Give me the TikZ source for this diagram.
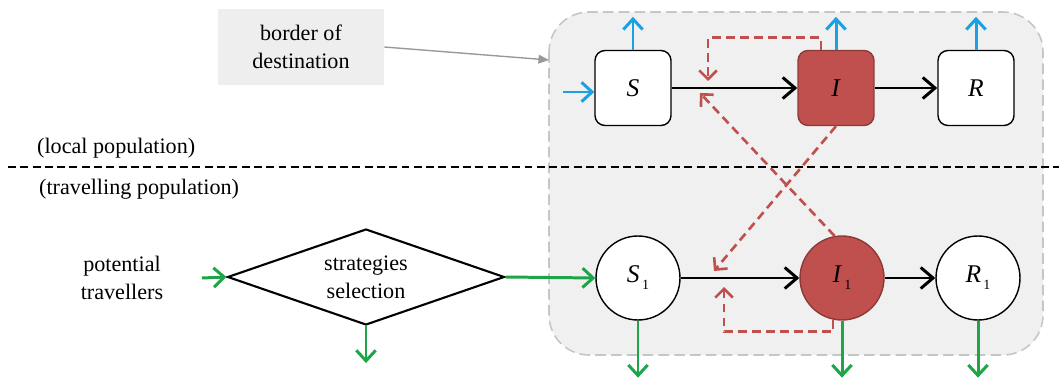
\documentclass[tikz,border=0pt]{standalone}
\usepackage{fontspec}
\setmainfont{Liberation Serif}
\usepackage{tikz}
\usetikzlibrary{arrows.meta,shapes.geometric}
\definecolor{infred}{HTML}{C0504D}
\definecolor{infdark}{HTML}{8C3A38}
\definecolor{flowblue}{HTML}{1BA1E2}
\definecolor{flowgreen}{HTML}{1DA548}
\definecolor{zone}{HTML}{F0F0F0}
\definecolor{labelgray}{HTML}{EEEEEE}

\begin{document}
\begin{tikzpicture}[x=0.02cm, y=-0.02cm, font=\fontsize{12.6}{16}\selectfont,
        compbox/.style={draw=black, line width=0.8pt, fill=white, rounded corners=0.2cm,
          minimum width=1.52cm, minimum height=1.5cm, font=\fontsize{14.5}{17}\selectfont},
        compcirc/.style={draw=black, line width=0.8pt, fill=white, circle, minimum size=1.68cm,
          font=\fontsize{14.5}{17}\selectfont},
        infected/.style={fill=infred, draw=infdark},
        flow/.style={line width=1.7pt, -{Straight Barb[length=7pt, width=12pt]}},
        blueflow/.style={flowblue, line width=1.7pt, -{Straight Barb[length=6pt, width=11pt]}},
        greenflow/.style={flowgreen, line width=1.7pt, -{Straight Barb[length=6pt, width=11pt]}},
        contact/.style={infred, line width=1.5pt, dash pattern=on 5pt off 3pt,
          -{Straight Barb[length=5pt, width=10pt]}}]
    \useasboundingbox (0,0) rectangle (1059,385);
    % destination zone
    \draw[gray!45, line width=0.9pt, dash pattern=on 6pt off 3pt, fill=zone,
        rounded corners=0.8cm] (549,12) rectangle (1043,355);
    \node[fill=labelgray, minimum width=3.32cm, minimum height=1.54cm, align=center]
        (bd) at (301,47) {border of\\destination};
    \coordinate (zoneedge) at (549,60);
    \draw[gray!80, line width=0.8pt, -{Triangle[length=6pt, width=5pt]}] (bd.east) -- (zoneedge);
    % divider
    \coordinate (divL) at (8,167);
    \coordinate (divR) at (1059,167);
    \draw[line width=1.1pt, dash pattern=on 4.5pt off 2.5pt] (divL) -- (divR);
    \node[anchor=west] (lp) at (31,148) {(local population)};
    \node[anchor=west] (tp) at (33,189) {(travelling population)};
    % local compartments
    \node[compbox] (S) at (633,88) {\textit{S}};
    \node[compbox, infected] (I) at (836,88) {\textit{I}};
    \node[compbox] (R) at (976,88) {\textit{R}};
    \draw[flow] (S) -- (I);
    \draw[flow] (I) -- (R);
    \foreach \n in {S,I,R}
        \draw[blueflow] (\n.north) -- ++(0,-33);
    \coordinate (inS) at (563,92);
    \draw[blueflow] (inS) -- (S.west |- inS);
    % travelling compartments
    \node[compcirc] (S1) at (638,278) {\textit{S}\raisebox{-0.6ex}{\footnotesize\,1}};
    \node[compcirc, infected] (I1) at (842,278) {\textit{I}\raisebox{-0.6ex}{\footnotesize\,1}};
    \node[compcirc] (R1) at (978,278) {\textit{R}\raisebox{-0.6ex}{\footnotesize\,1}};
    \draw[flow] (S1) -- (I1);
    \draw[flow] (I1) -- (R1);
    \foreach \n in {S1,I1,R1}
        \draw[greenflow] (\n.south) -- ++(0,57);
    % strategies selection
    \node[align=center] (pt) at (122,278) {potential\\travellers};
    \node[diamond, draw=black, line width=1.2pt, fill=white, aspect=2.9, inner sep=0pt,
        minimum width=5.54cm, minimum height=1.92cm, align=center]
        (sel) at (366,277) {strategies\\selection};
    \coordinate (ptout) at (202,278);
    \draw[greenflow] (ptout) -- (sel.west);
    \draw[greenflow] (sel.east) -- (S1.west);
    \draw[greenflow] (sel.south) -- ++(0,37);
    % infection contacts
    \coordinate (fbI) at (708,81);
    \coordinate (fbI1) at (724,287);
    \coordinate (hitA) at (700,93);
    \coordinate (hitB) at (714,271);
    \draw[contact] ([xshift=-0.3cm]I.north) -- ++(0,-12) -| (fbI);
    \draw[contact] (I1.100) -- (hitA);
    \draw[contact] (I.south) -- (hitB);
    \draw[contact] (I1.-102) -- ++(0,12) -| (fbI1);
\end{tikzpicture}
\end{document}
